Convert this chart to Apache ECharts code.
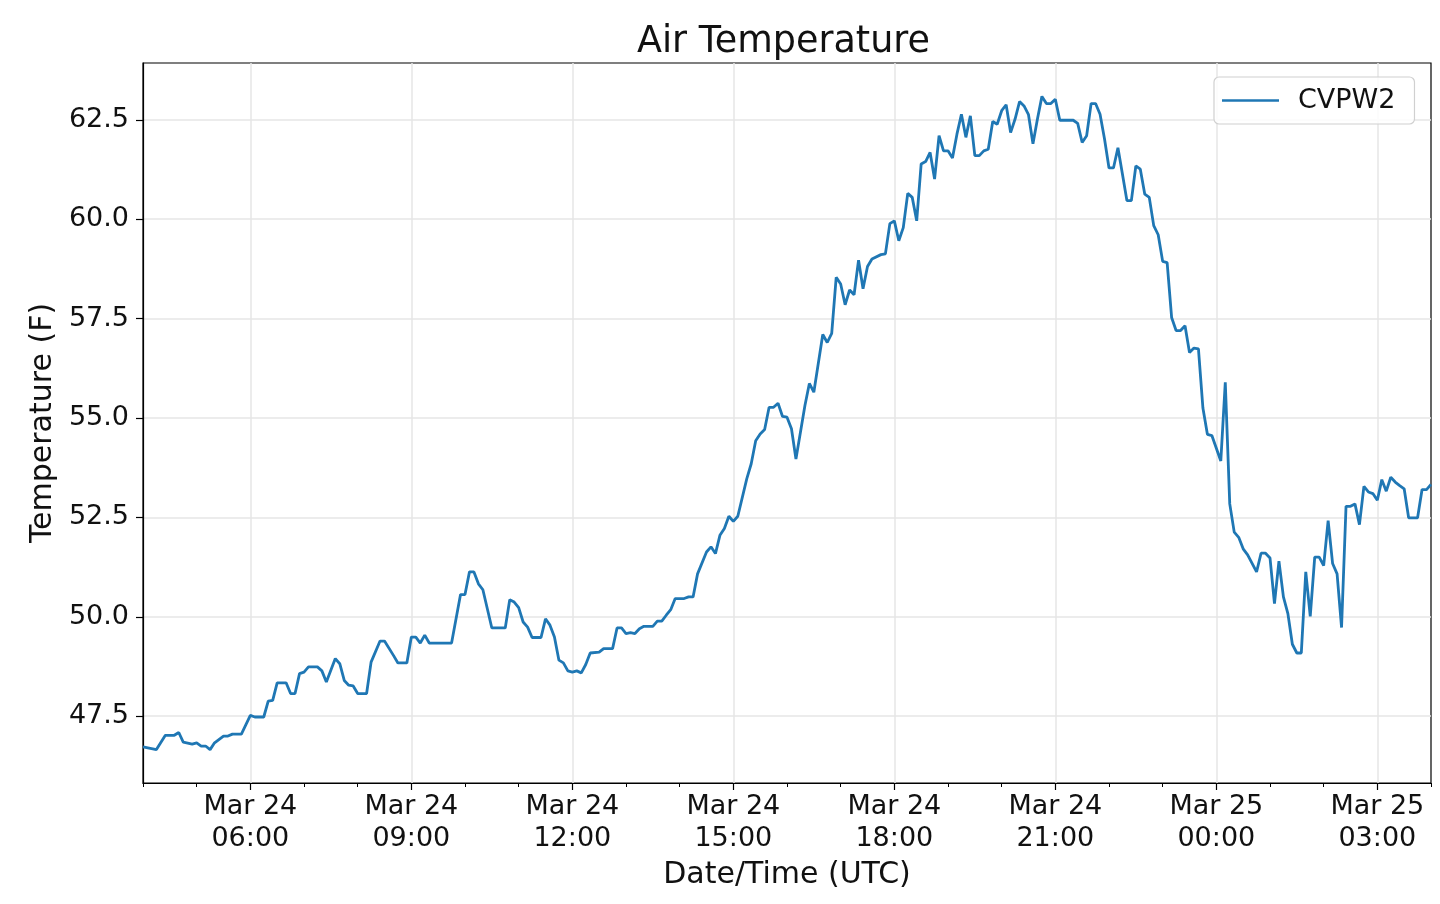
<!DOCTYPE html>
<html>
<head>
<meta charset="UTF-8">
<title>Air Temperature</title>
<script src="https://cdn.jsdelivr.net/npm/echarts@6/dist/echarts.min.js"></script>
</head>
<body style="margin:0;background:#fff;">
<div id="main" style="width:1440px;height:904px;"></div>
<script type="text/javascript">
// observation times, minutes after Mar 24 00:00 UTC
var obsMinutes = [
  240, 255, 265, 275, 280, 285, 295, 300, 305, 310, 315, 320, 330, 335, 340, 350,
  360, 365, 375, 380, 385, 390, 400, 405, 410, 415, 420, 425, 435, 440, 445, 455,
  460, 465, 470, 475, 480, 490, 495, 505, 510, 520, 525, 535, 540, 545, 550, 555,
  560, 585, 595, 600, 605, 610, 615, 620, 630, 645, 650, 655, 660, 665, 670, 675,
  685, 690, 695, 700, 705, 710, 715, 720, 725, 730, 735, 740, 750, 755, 765, 770,
  775, 780, 785, 790, 795, 800, 810, 815, 820, 825, 830, 835, 845, 850, 855, 860,
  870, 875, 880, 885, 890, 895, 900, 905, 915, 920, 925, 930, 935, 940, 945, 950,
  955, 960, 965, 970, 980, 985, 990, 1000, 1005, 1010, 1015, 1020, 1025, 1030, 1035, 1040,
  1045, 1050, 1055, 1065, 1070, 1075, 1080, 1085, 1090, 1095, 1100, 1105, 1110, 1115, 1120, 1125,
  1130, 1135, 1140, 1145, 1150, 1155, 1160, 1165, 1170, 1175, 1180, 1185, 1190, 1195, 1200, 1205,
  1210, 1215, 1220, 1225, 1230, 1235, 1240, 1245, 1250, 1255, 1260, 1265, 1275, 1280, 1285, 1290,
  1295, 1300, 1305, 1310, 1315, 1320, 1325, 1330, 1335, 1340, 1345, 1350, 1355, 1360, 1365, 1370,
  1375, 1380, 1385, 1390, 1395, 1400, 1405, 1410, 1415, 1420, 1425, 1430, 1435, 1445, 1450, 1455,
  1460, 1465, 1470, 1475, 1485, 1490, 1495, 1500, 1505, 1510, 1515, 1520, 1525, 1530, 1535, 1540,
  1545, 1550, 1555, 1560, 1565, 1570, 1575, 1580, 1585, 1590, 1595, 1600, 1605, 1610, 1615, 1620,
  1625, 1630, 1635, 1640, 1645, 1650, 1655, 1665, 1670, 1675, 1680
];
var airTempF = [
  46.73, 46.66, 47.02, 47.02, 47.09, 46.85, 46.80, 46.83, 46.75, 46.75, 46.66, 46.83, 47.00, 47.00, 47.05, 47.05,
  47.52, 47.48, 47.48, 47.88, 47.90, 48.34, 48.34, 48.07, 48.07, 48.57, 48.61, 48.74, 48.74, 48.64, 48.36, 48.95,
  48.82, 48.40, 48.28, 48.26, 48.07, 48.07, 48.86, 49.39, 49.39, 49.03, 48.84, 48.84, 49.49, 49.49, 49.34, 49.54,
  49.34, 49.34, 50.56, 50.56, 51.13, 51.13, 50.83, 50.68, 49.72, 49.72, 50.43, 50.37, 50.23, 49.87, 49.74, 49.48,
  49.48, 49.95, 49.79, 49.49, 48.91, 48.84, 48.64, 48.61, 48.64, 48.59, 48.80, 49.09, 49.11, 49.20, 49.20, 49.72,
  49.72, 49.58, 49.60, 49.58, 49.70, 49.76, 49.76, 49.89, 49.89, 50.04, 50.18, 50.46, 50.46, 50.50, 50.50, 51.08,
  51.63, 51.76, 51.59, 52.05, 52.22, 52.53, 52.40, 52.53, 53.47, 53.85, 54.43, 54.60, 54.71, 55.27, 55.27, 55.37,
  55.04, 55.02, 54.73, 53.97, 55.31, 55.87, 55.65, 57.10, 56.90, 57.13, 58.54, 58.37, 57.85, 58.22, 58.10, 58.97,
  58.25, 58.81, 59.00, 59.11, 59.13, 59.89, 59.96, 59.46, 59.79, 60.65, 60.55, 59.96, 61.39, 61.45, 61.68, 61.01,
  62.10, 61.72, 61.72, 61.54, 62.14, 62.64, 62.06, 62.60, 61.60, 61.60, 61.72, 61.76, 62.46, 62.39, 62.73, 62.88,
  62.18, 62.52, 62.96, 62.85, 62.63, 61.90, 62.52, 63.09, 62.91, 62.91, 63.02, 62.49, 62.49, 62.49, 62.41, 61.93,
  62.10, 62.91, 62.91, 62.64, 62.02, 61.29, 61.29, 61.80, 61.14, 60.47, 60.47, 61.34, 61.26, 60.63, 60.55, 59.84,
  59.61, 58.94, 58.91, 57.53, 57.20, 57.20, 57.32, 56.65, 56.76, 56.74, 55.25, 54.59, 54.56, 53.92, 55.90, 52.84,
  52.13, 52.00, 51.71, 51.56, 51.13, 51.60, 51.60, 51.48, 50.33, 51.40, 50.50, 50.08, 49.31, 49.09, 49.09, 51.13,
  50.01, 51.50, 51.50, 51.29, 52.42, 51.34, 51.08, 49.73, 52.78, 52.78, 52.84, 52.32, 53.28, 53.14, 53.10, 52.93,
  53.45, 53.16, 53.51, 53.39, 53.30, 53.22, 52.49, 52.49, 53.20, 53.20, 53.33
];
var xTickMinutes = [360, 540, 720, 900, 1080, 1260, 1440, 1620];
var xTickLabels = ['Mar 24\n06:00', 'Mar 24\n09:00', 'Mar 24\n12:00', 'Mar 24\n15:00',
                   'Mar 24\n18:00', 'Mar 24\n21:00', 'Mar 25\n00:00', 'Mar 25\n03:00'];
var yTicks = [47.5, 50.0, 52.5, 55.0, 57.5, 60.0, 62.5];
var stationName = 'CVPW2';

var FONT = 'DejaVu Sans';
var points = obsMinutes.map(function (m, i) { return [m, airTempF[i]]; });

var myChart = echarts.init(document.getElementById('main'), null, { renderer: 'canvas' });
myChart.setOption({
    animation: false,
    backgroundColor: '#ffffff',
    title: {
        text: 'Air Temperature',
        left: 637,
        top: 24,
        padding: 0,
        textStyle: { fontFamily: FONT, fontSize: 36.5, fontWeight: 'normal', color: '#111' }
    },
    legend: {
        data: [stationName],
        left: 1214,
        top: 77,
        icon: 'rect',
        itemWidth: 57,
        itemHeight: 2.5,
        padding: [10, 19, 10, 8],
        backgroundColor: 'rgba(255,255,255,0.85)',
        borderColor: '#d0d0d0',
        borderWidth: 1.2,
        borderRadius: 5,
        textStyle: { fontFamily: FONT, fontSize: 27, color: '#111', padding: [0, 0, 0, 14] }
    },
    grid: {
        left: 143,
        right: 9,
        top: 63,
        bottom: 121,
        show: true,
        borderColor: '#000',
        borderWidth: 1.2,
        backgroundColor: '#fff'
    },
    xAxis: [{
        type: 'value',
        min: 240,
        max: 1680,
        name: 'Date/Time (UTC)',
        nameLocation: 'middle',
        nameGap: 73,
        nameTextStyle: { fontFamily: FONT, fontSize: 30, color: '#111' },
        axisLine: { show: true, lineStyle: { color: '#000', width: 1.2 } },
        axisTick: { show: true, length: 7, lineStyle: { color: '#000', width: 1.2 }, customValues: xTickMinutes },
        axisLabel: {
            customValues: xTickMinutes,
            margin: 8,
            fontFamily: FONT,
            fontSize: 27,
            lineHeight: 32,
            color: '#111',
            formatter: function (v) { return xTickLabels[xTickMinutes.indexOf(v)]; }
        },
        splitLine: { show: true, lineStyle: { color: '#e6e6e6', width: 1.5 } }
    }, {
        // hourly minor ticks
        type: 'value',
        position: 'bottom',
        min: 240,
        max: 1680,
        interval: 60,
        axisLine: { show: false },
        axisTick: { show: true, length: 4, lineStyle: { color: '#000', width: 1 } },
        axisLabel: { show: false },
        splitLine: { show: false }
    }],
    yAxis: {
        type: 'value',
        min: 45.82,
        max: 63.93,
        name: 'Temperature (F)',
        nameLocation: 'middle',
        nameRotate: 90,
        nameGap: 82,
        nameTextStyle: { fontFamily: FONT, fontSize: 30, color: '#111' },
        axisLine: { show: true, lineStyle: { color: '#000', width: 1.2 } },
        axisTick: { show: true, length: 7, lineStyle: { color: '#000', width: 1.2 }, customValues: yTicks },
        axisLabel: {
            customValues: yTicks,
            margin: 14,
            fontFamily: FONT,
            fontSize: 27,
            color: '#111',
            formatter: function (v) { return v.toFixed(1); }
        },
        splitLine: { show: true, lineStyle: { color: '#e6e6e6', width: 1.5 } }
    },
    series: [{
        name: stationName,
        type: 'line',
        xAxisIndex: 0,
        data: points,
        symbol: 'none',
        showSymbol: false,
        lineStyle: { color: '#1f77b4', width: 2.8 },
        itemStyle: { color: '#1f77b4' }
    }]
});
</script>
</body>
</html>
